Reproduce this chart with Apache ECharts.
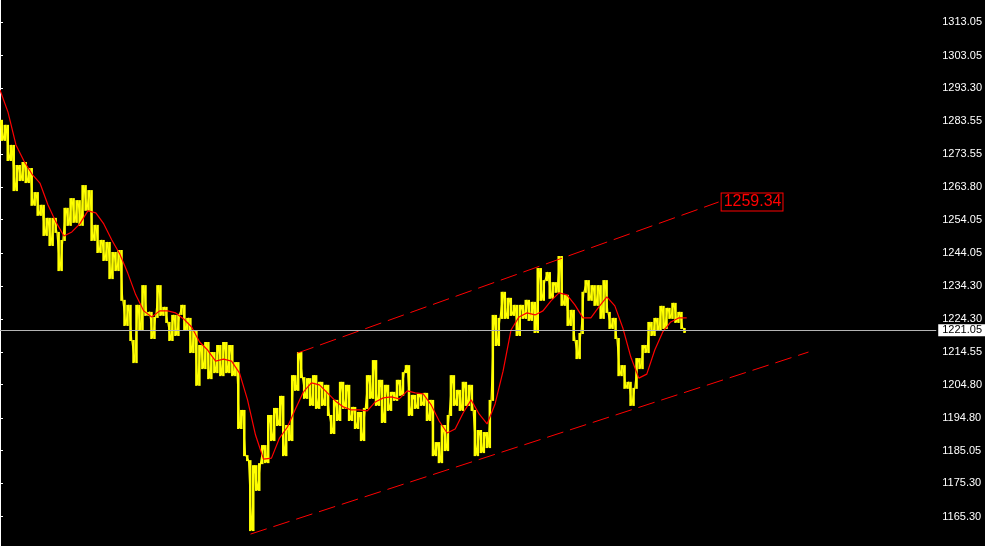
<!DOCTYPE html>
<html>
<head>
<meta charset="utf-8">
<script src="https://cdn.jsdelivr.net/npm/echarts@6/dist/echarts.min.js"></script>
<style>
html,body{margin:0;padding:0;background:#000;}
#chart{width:985px;height:546px;}
</style>
</head>
<body>
<div id="chart"></div>
<script>
// Price path (bar index step = 3 time units), alternating highs/lows
const priceStep = 3;
const price = [
1283.9,1277.9,1282.4,1271.9,1276.4,1262.9,1270.4,1265.9,1271.3,1265.3,
1269.5,1258.5,1262.3,1255.5,1258.5,1249.5,1254.6,1246.5,1254.6,1250.4,
1239.0,1248.0,1257.6,1252.5,1260.5,1253.4,1259.9,1252.5,1264.4,1257.0,
1262.9,1248.0,1252.5,1244.4,1248.0,1242.0,1247.4,1236.6,1244.4,1239.0,
1245.0,
1230.1,1222.6,1228.6,1218.1,1211.5,1228.6,1221.1,1234.5,1225.6,1226.5,
1218.7,1225.0,1234.5,1225.6,1228.0,1223.5,1218.1,1225.6,1219.6,1225.9,
1228.6,1221.1,1224.7,1214.5,1221.1,1204.7,1216.6,1209.7,1217.5,1206.7,
1214.5,1208.5,1216.6,1207.6,1217.5,1208.5,1216.6,1207.6,1211.5,1191.8,
1197.2,1183.7,1182.2,1161.3,1180.7,1173.3,1181.3,1186.7,1181.6,1195.7,
1188.2,1197.8,1192.7,1201.4,1183.7,1192.7,1188.2,1207.6,1203.2,1214.5,
1207.0,1200.8,1206.7,1198.7,1207.6,1197.8,1205.6,1198.7,1204.7,1195.7,
1190.3,1200.2,1194.2,1205.6,1197.8,1204.7,1194.2,1198.1,1191.8,1196.6,
1188.2,1197.8,1207.6,1200.8,1212.1,1198.7,1206.2,1193.6,1204.7,1197.2,
1202.6,1200.2,1206.2,1201.7,1208.5,1210.6,1195.7,1201.7,1197.8,1202.0,
1198.7,1202.3,1194.2,1200.2,1183.7,1187.6,1181.6,1192.7,1185.2,1195.7,
1207.6,1198.7,1203.2,1197.2,1205.6,1198.7,1204.7,1197.2,1183.7,1191.2,
1184.6,1190.6,1186.1,1200.2,1225.6,1216.6,1224.7,1232.5,1224.7,1230.7,
1225.6,1228.6,1219.6,1228.6,1224.7,1230.1,1224.1,1229.5,1220.5,1239.6,
1230.1,1236.0,1238.4,1230.7,1235.4,1232.5,1243.2,1228.6,1231.6,1222.6,
1227.1,1218.1,1212.7,1220.2,1232.5,1236.0,1230.1,1234.5,1228.6,1234.5,
1224.7,1236.0,1226.5,1221.7,1224.7,1218.7,1207.6,1210.6,1203.8,1205.6,
1198.7,1203.8,1212.7,1209.7,1216.6,1214.5,1223.5,1219.6,1224.7,1221.1,
1228.3,1221.7,1227.7,1224.7,1229.2,1223.5,1226.5,1221.7,1220.5
];
// Moving average (step = 8 time units)
const maStep = 8;
const ma = [
1292.8,1286.2,1276.4,1271.6,1267.7,1265.0,1258.5,1253.4,1249.2,1250.4,
1252.8,1256.7,1256.1,1252.8,1248.0,1243.8,1238.1,1231.6,1226.8,1225.0,
1226.8,1226.8,1226.2,1224.4,1222.0,1217.5,1215.1,1211.8,1212.4,1211.8,
1208.2,1200.2,1189.7,1182.5,1182.8,1188.8,1192.1,1197.5,1202.6,1205.3,
1204.7,1202.3,1199.9,1198.1,1197.2,1197.2,1196.9,1199.6,1200.8,1201.1,
1200.5,1202.9,1202.3,1202.0,1198.7,1193.9,1190.3,1191.5,1196.3,1200.2,
1196.0,1193.0,1199.0,1208.8,1221.1,1225.0,1226.2,1225.6,1226.8,1229.8,
1232.2,1231.6,1228.6,1224.7,1224.7,1228.0,1231.0,1228.3,1221.7,1213.0,
1206.7,1207.9,1215.1,1220.5,1223.5,1224.7,1224.7
];
// Trend channel lines [time, price]
const upperTrend = [[298, 1214.2], [720, 1259.34]];
const lowerTrend = [[251, 1160.1], [810, 1214.5]];
const upperLabel = '1259.34';
const currentPrice = 1221.05;
const tickValues = [1165.30,1175.30,1185.05,1194.80,1204.80,1214.55,1224.30,1234.30,
  1244.05,1254.05,1263.80,1273.55,1283.55,1293.30,1303.05,1313.05];
const yMin = 1156.54, yMax = 1319.71;
const xMax = 938;

const priceData = price.map((v, i) => [i * priceStep, v]);
// range bars between consecutive readings
const rangeData = price.slice(0, -1).map((v, i) =>
  [i * priceStep, Math.min(v, price[i + 1]), Math.max(v, price[i + 1])]);
const maData = ma.map((v, i) => [i * maStep, v]);

const labelFont = '"Liberation Sans Narrow", "Liberation Sans", Arial, sans-serif';

const chart = echarts.init(document.getElementById('chart'), null, {renderer: 'canvas'});
chart.setOption({
  backgroundColor: '#000000',
  animation: false,
  grid: {left: 0, right: 47, top: 0, bottom: 0},
  xAxis: {
    type: 'value', min: 0, max: xMax, show: false
  },
  yAxis: {
    type: 'value', position: 'right', min: yMin, max: yMax,
    axisLine: {show: true, lineStyle: {color: '#ffffff', width: 1}},
    axisTick: {show: true, customValues: tickValues, length: 3, lineStyle: {color: '#ffffff'}},
    axisLabel: {show: true, customValues: tickValues, color: '#ffffff', fontSize: 11,
      fontFamily: labelFont, margin: 6, formatter: v => v.toFixed(2)},
    splitLine: {show: false}
  },
  series: [
    {
      name: 'range', type: 'custom', data: rangeData, z: 1,
      renderItem: function (params, api) {
        const x = api.value(0);
        const top = api.coord([x, api.value(2)]);
        const bot = api.coord([x + priceStep, api.value(1)]);
        return {
          type: 'rect',
          shape: {x: top[0] + 0.5, y: top[1], width: bot[0] - top[0] - 0.5, height: bot[1] - top[1] + 1},
          style: {fill: '#ffff00'}
        };
      }
    },
    {
      name: 'price', type: 'line', data: priceData, showSymbol: false, z: 2,
      lineStyle: {color: '#ffff00', width: 1.2}, itemStyle: {color: '#ffff00'},
      markLine: {
        silent: true, symbol: 'none', animation: false,
        data: [{yAxis: currentPrice}],
        lineStyle: {color: '#b4b4b4', type: 'solid', width: 1},
        label: {show: true, position: 'end', formatter: currentPrice.toFixed(2),
          backgroundColor: '#ffffff', color: '#000000', fontSize: 11, fontFamily: labelFont,
          padding: [1, 5, 0, 4], distance: 2}
      }
    },
    {
      name: 'ma', type: 'line', data: maData, showSymbol: false, z: 3, smooth: false,
      lineStyle: {color: '#ff0000', width: 1.2}
    },
    {
      name: 'upper', type: 'line', data: upperTrend, showSymbol: false, z: 4,
      lineStyle: {color: '#ff0000', width: 1, type: [17, 7]},
      endLabel: {show: true, formatter: upperLabel, color: '#ff0000', fontSize: 16,
        fontFamily: '"Liberation Sans", Arial, sans-serif', borderColor: '#ff0000', borderWidth: 1,
        padding: [1, 1, 0, 2], distance: 3, backgroundColor: '#000000'}
    },
    {
      name: 'lower', type: 'line', data: lowerTrend, showSymbol: false, z: 4,
      lineStyle: {color: '#ff0000', width: 1, type: [17, 7]}
    }
  ]
});
</script>
</body>
</html>
